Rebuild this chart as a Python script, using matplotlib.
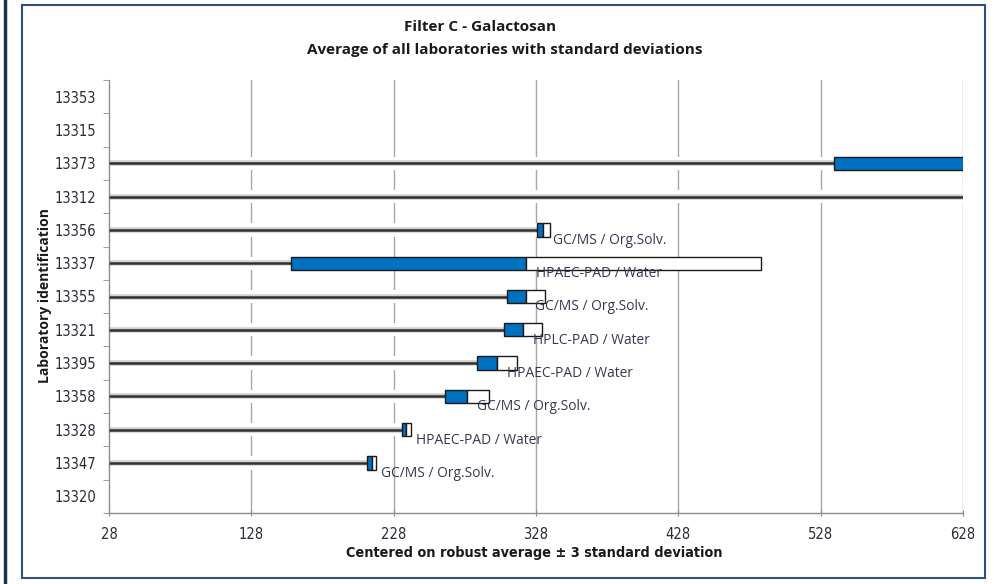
import numpy as np
import matplotlib
matplotlib.use("Agg")
import matplotlib.pyplot as plt
from matplotlib.patches import Rectangle
from matplotlib.lines import Line2D

# 데이터
labs = ['13353', '13315', '13373', '13312', '13356', '13337', '13355',
        '13321', '13395', '13358', '13328', '13347', '13320']
means = [np.nan, np.nan, 690.0, 900.0, 333.1, 321.0, 320.7,
         319.0, 300.6, 279.7, 237.0, 212.6, np.nan]
sds = [np.nan, np.nan, 152.6, 100.0, 4.4, 165.0, 13.3,
       13.5, 13.8, 15.5, 3.4, 3.0, np.nan]
methods = ['', '', '', '', 'GC/MS / Org.Solv.', 'HPAEC-PAD / Water',
           'GC/MS / Org.Solv.', 'HPLC-PAD / Water', 'HPAEC-PAD / Water',
           'GC/MS / Org.Solv.', 'HPAEC-PAD / Water', 'GC/MS / Org.Solv.', '']
x_ticks = [28, 128, 228, 328, 428, 528, 628]

title_1 = "Filter C - Galactosan"
title_2 = "Average of all laboratories with standard deviations"
x_label = "Centered on robust average \u00b1 3 standard deviation"
y_label = "Laboratory identification"

BLUE = '#0070c0'
TXT = '#2a2a3a'
NARROW = ['DejaVu Sans']


def plot_chart():
    fig = plt.figure(figsize=(9.94, 5.84), dpi=100)
    ax = fig.add_axes([109 / 994, 1 - 513 / 584, (963 - 109) / 994, (513 - 80) / 584])

    x0 = x_ticks[0]
    h = 0.4
    y = np.arange(len(labs))

    # 세로 격자선 (뒤쪽)
    for xt in x_ticks[1:]:
        ax.axvline(xt, color='#a6a6a6', lw=1.0, zorder=0)

    for i in range(len(labs)):
        m, s = means[i], sds[i]
        if np.isnan(m):
            continue
        lo = m - s
        # 흰색 숨김 막대 + 진한 선
        ax.barh(y[i], lo - x0, left=x0, height=h, color='white', lw=0, zorder=1)
        ax.plot([x0, lo], [y[i], y[i]], color='#d0d0d0', lw=4.0,
                solid_capstyle='butt', zorder=2)
        ax.plot([x0, lo], [y[i], y[i]], color='#303030', lw=1.8,
                solid_capstyle='butt', zorder=3)
        # 평균 - sd ~ 평균 (파랑), 평균 ~ 평균 + sd (흰색)
        ax.barh(y[i], s, left=lo, height=h, color=BLUE, edgecolor='#1a1a1a',
                lw=1.0, zorder=4)
        ax.barh(y[i], s, left=m, height=h, color='white', edgecolor='#1a1a1a',
                lw=1.0, zorder=4)
        if methods[i]:
            ax.annotate(methods[i], xy=(m, y[i]), xytext=(7, -7.5),
                        textcoords='offset points', va='center', ha='left',
                        fontsize=9.9, color='#3a3550', family='Open Sans',
                        zorder=5)

    ax.set_xlim(x_ticks[0], x_ticks[-1])
    ax.set_ylim(len(labs) - 0.5, -0.5)
    ax.set_xticks(x_ticks)
    ax.set_xticklabels([str(t) for t in x_ticks])
    ax.set_yticks(y)
    ax.set_yticklabels(labs)
    ax.set_yticks(np.arange(len(labs) + 1) - 0.5, minor=True)

    ax.tick_params(axis='y', which='major', length=0, pad=9, labelsize=10.5,
                   labelcolor=TXT)
    ax.tick_params(axis='y', which='minor', length=4, color='#8c8c8c')
    ax.tick_params(axis='x', length=4, direction='inout', color='#8c8c8c',
                   labelsize=10.5, labelcolor=TXT, pad=8)
    for lab in ax.get_xticklabels() + ax.get_yticklabels():
        lab.set_family(NARROW)
        lab.set_stretch('condensed')

    for sp in ['top', 'right']:
        ax.spines[sp].set_visible(False)
    for sp in ['left', 'bottom']:
        ax.spines[sp].set_color('#8c8c8c')
        ax.spines[sp].set_linewidth(1.0)

    # 제목 두 줄
    fig.text(480 / 994, 1 - 27 / 584, title_1, ha='center', va='center',
             fontsize=11, fontweight='bold', color='#1a1a1a', family='Open Sans')
    fig.text(505 / 994, 1 - 50 / 584, title_2, ha='center', va='center',
             fontsize=11, fontweight='bold', color='#1a1a1a', family='Open Sans')
    fig.text(534 / 994, 1 - 553 / 584, x_label, ha='center', va='center',
             fontsize=10.4, fontweight='bold', color='#1a1a1a', family=NARROW,
             stretch='condensed')
    fig.text(45 / 994, 1 - 296 / 584, y_label, ha='center', va='center',
             rotation=90, fontsize=10, fontweight='bold', color='#1a1a1a',
             family='Open Sans')

    # 바깥 테두리
    fig.patches.append(Rectangle((22 / 994, 6 / 584), (985 - 22) / 994,
                                 (579 - 6) / 584, transform=fig.transFigure,
                                 fill=False, edgecolor='#2f4f7f', lw=1.5))
    fig.lines.append(Line2D([5 / 994, 5 / 994], [0, 1], transform=fig.transFigure,
                            color='#1f3050', lw=2.5))

    fig.savefig("out.png", dpi=100)


if __name__ == "__main__":
    plot_chart()
